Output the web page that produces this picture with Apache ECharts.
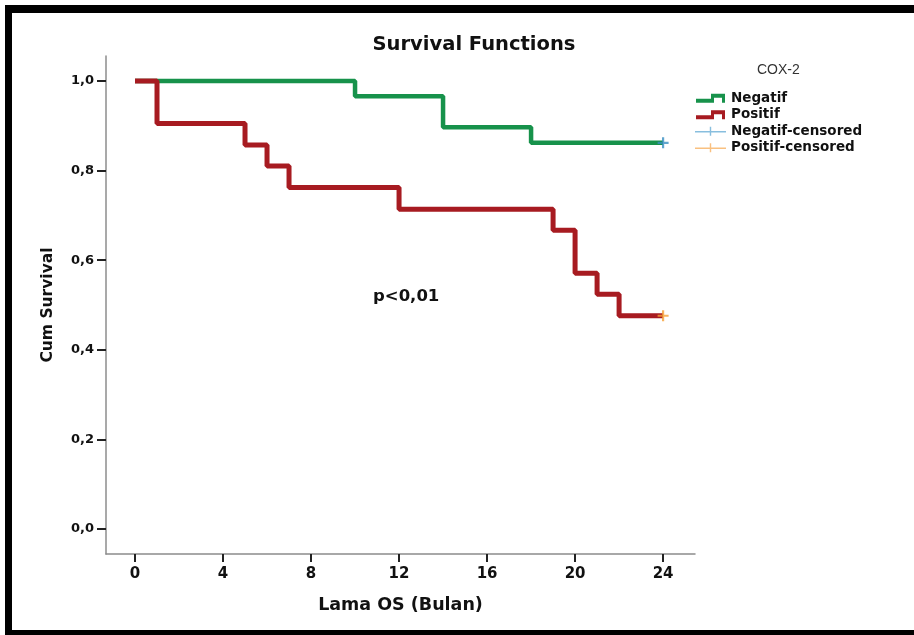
<!DOCTYPE html>
<html>
<head>
<meta charset="utf-8">
<script src="https://cdn.jsdelivr.net/npm/echarts@6/dist/echarts.min.js"></script>
<style>
  html, body { margin: 0; padding: 0; background: #fff; }
  #chart { width: 914px; height: 635px; }
</style>
</head>
<body>
<div id="chart"></div>
<script>
// Kaplan-Meier steps
const negTime = [0, 10, 14, 18, 24]
const negSurv = [1.0, 0.966, 0.897, 0.862, 0.862]
const posTime = [0, 1, 5, 6, 7, 12, 19, 20, 21, 22, 24]
const posSurv = [1.0, 0.905, 0.857, 0.810, 0.762, 0.714, 0.667, 0.571, 0.524, 0.476, 0.476]
const negCensor = [[24, 0.862]]
const posCensor = [[24, 0.476]]

const xTicks = [0, 4, 8, 12, 16, 20, 24]
const yTicks = [0, 0.2, 0.4, 0.6, 0.8, 1.0]

const GREEN = '#17924b'
const RED = '#a71b21'
const BLUE = '#3a8ec2'
const ORANGE = '#f6a036'
const FONT = 'DejaVu Sans'

const X_MIN = -1.318, X_MAX = 25.45
const Y_MIN = -0.0558, Y_MAX = 1.0558

const stepIcon = 'path://M0,5L15,5L15,0L29,0L29,9L26,9L26,4L18,4L18,9L0,9Z'
const censorIcon = 'path://M0,4.3L31,4.3L31,5.7L0,5.7Z M14.8,0L16.2,0L16.2,9L14.8,9Z'
const plusSymbol = 'path://M4,0L6,0L6,4L10,4L10,6L6,6L6,10L4,10L4,6L0,6L0,4L4,4Z'

const zip = (xs, ys) => xs.map((x, i) => [x, ys[i]])

const chart = echarts.init(document.getElementById('chart'), null, { renderer: 'canvas' })

chart.setOption({
    animation: false,
    backgroundColor: '#fff',
    title: {
        text: 'Survival Functions',
        left: 469,
        top: 30,
        textAlign: 'center',
        textStyle: { fontFamily: FONT, fontSize: 19.5, fontWeight: 'bold', color: '#111' },
    },
    legend: {
        orient: 'vertical',
        left: 695,
        top: 91,
        padding: 0,
        itemWidth: 31,
        itemHeight: 9,
        itemGap: 2,
        textStyle: { fontFamily: FONT, fontSize: 13.5, fontWeight: 'bold', color: '#111', lineHeight: 14.5 },
        data: [
            { name: 'Negatif', icon: stepIcon, itemStyle: { color: GREEN, borderWidth: 0 } },
            { name: 'Positif', icon: stepIcon, itemStyle: { color: RED, borderWidth: 0 } },
            { name: 'Negatif-censored', icon: censorIcon, itemStyle: { color: '#6aaed6', borderWidth: 0 } },
            { name: 'Positif-censored', icon: censorIcon, itemStyle: { color: '#f8b060', borderWidth: 0 } },
        ],
    },
    graphic: [
        { id: 'legendTitle', type: 'text', left: 757, top: 63,
          style: { text: 'COX-2', fontFamily: 'Liberation Sans', fontSize: 14, fill: '#333' } },
        { id: 'pval', type: 'text', left: 373, top: 288,
          style: { text: 'p<0,01', fontFamily: FONT, fontSize: 16.5, fontWeight: 'bold', fill: '#111' } },
        // black frame
        { id: 'frameTop', type: 'rect', left: 5, top: 5, shape: { width: 909, height: 8 }, style: { fill: '#000' } },
        { id: 'frameLeft', type: 'rect', left: 5, top: 5, shape: { width: 7, height: 630 }, style: { fill: '#000' } },
        { id: 'frameBottom', type: 'rect', left: 5, top: 630, shape: { width: 909, height: 5 }, style: { fill: '#000' } },
    ],
    grid: { left: 106, top: 56, width: 589, height: 498 },
    xAxis: {
        type: 'value',
        min: X_MIN,
        max: X_MAX,
        name: 'Lama OS (Bulan)',
        nameLocation: 'middle',
        nameGap: 42,
        nameTextStyle: { fontFamily: FONT, fontSize: 17.5, fontWeight: 'bold', color: '#111' },
        axisLine: { show: true, onZero: false, lineStyle: { color: '#8c8c8c', width: 1.5 } },
        axisTick: { show: true, customValues: xTicks, length: 8, lineStyle: { color: '#222', width: 2 } },
        axisLabel: {
            customValues: xTicks, margin: 13,
            fontFamily: FONT, fontSize: 15, fontWeight: 'bold', color: '#111',
        },
        splitLine: { show: false },
    },
    yAxis: {
        type: 'value',
        min: Y_MIN,
        max: Y_MAX,
        name: 'Cum Survival',
        nameLocation: 'middle',
        nameGap: 50,
        nameTextStyle: { fontFamily: FONT, fontSize: 15.5, fontWeight: 'bold', color: '#111' },
        axisLine: { show: true, onZero: false, lineStyle: { color: '#8c8c8c', width: 1.5 } },
        axisTick: { show: true, customValues: yTicks, length: 9, lineStyle: { color: '#222', width: 2 } },
        axisLabel: {
            customValues: yTicks, margin: 12,
            fontFamily: FONT, fontSize: 13, fontWeight: 'bold', color: '#111',
            formatter: v => v.toFixed(1).replace('.', ','),
        },
        splitLine: { show: false },
    },
    series: [
        {
            name: 'Negatif', type: 'line', step: 'end', symbol: 'none',
            data: zip(negTime, negSurv),
            itemStyle: { color: GREEN },
            lineStyle: { color: GREEN, width: 4.5 },
            z: 2,
        },
        {
            name: 'Positif', type: 'line', step: 'end', symbol: 'none',
            data: zip(posTime, posSurv),
            itemStyle: { color: RED },
            lineStyle: { color: RED, width: 5 },
            z: 3,
        },
        {
            name: 'Negatif-censored', type: 'scatter', symbol: plusSymbol, symbolSize: 11,
            data: negCensor, itemStyle: { color: BLUE }, z: 4,
        },
        {
            name: 'Positif-censored', type: 'scatter', symbol: plusSymbol, symbolSize: 11,
            data: posCensor, itemStyle: { color: ORANGE }, z: 4,
        },
    ],
})

// x ticks didn't show up from axisTick, so add them as graphic lines placed via the x scale
const baseY = chart.convertToPixel({ yAxisIndex: 0 }, Y_MIN)
chart.setOption({
    graphic: xTicks.map((v, i) => {
        const px = Math.round(chart.convertToPixel({ xAxisIndex: 0 }, v))
        return {
            id: 'xtick' + i, type: 'line', z: 10,
            shape: { x1: px, y1: baseY, x2: px, y2: baseY + 8 },
            style: { stroke: '#222', lineWidth: 2 },
        }
    }),
})

window.addEventListener('resize', () => chart.resize())
</script>
</body>
</html>
